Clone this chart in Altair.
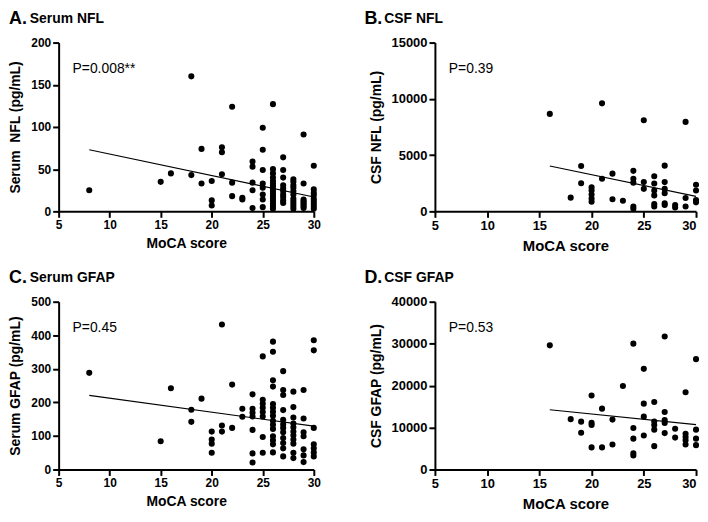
import altair as alt
import pandas as pd

FONT = "Liberation Sans"

# ---------------- data ----------------
moca_ticks = [5, 10, 15, 20, 25, 30]

# A. Serum NFL
A_x = [8, 15, 16, 18, 18, 19, 19, 20, 20, 20, 21, 21, 21, 22, 22, 22, 23, 23,
       24, 24, 24, 24, 24,
       25, 25, 25, 25, 25, 25, 25, 25,
       26, 26, 26, 26, 26, 26, 26, 26, 26, 26, 26, 26, 26, 26, 26, 26,
       27, 27, 27, 27, 27, 27, 27, 27, 27, 27,
       28, 28, 28, 28, 28, 28, 28, 28, 28, 28, 28,
       29, 29, 29, 29, 29, 29, 29, 29,
       30, 30, 30, 30, 30, 30, 30, 30, 30]
A_y = [25, 35, 45, 160, 43, 74, 33, 36, 13, 7, 76, 70, 44, 124, 34, 18, 16, 14,
       59, 53, 34, 25, 4,
       99, 73, 49, 33, 28, 20, 14, 5,
       127, 50, 45, 40, 36, 33, 30, 27, 24, 21, 18, 15, 12, 9, 6, 3,
       64, 49, 40, 31, 27, 24, 20, 17, 13, 10,
       38, 35, 31, 28, 24, 20, 15, 12, 9, 6, 3,
       91, 33, 14, 12, 10, 8, 6, 4,
       54, 26, 22, 19, 15, 12, 9, 6, 3]
A_fit_x = [8, 30]
A_fit_y = [73, 17]

# B. CSF NFL
B_x = [16, 18, 19, 19, 20, 20, 20, 20, 20, 21, 21, 22, 22, 23,
       24, 24, 24, 24, 24, 25, 25, 25,
       26, 26, 26, 26, 26, 26, 27, 27, 27, 27, 27, 27,
       28, 28, 29, 29, 29, 30, 30, 30, 30]
B_y = [8660, 1220, 4030, 2500, 2130, 1850, 1500, 1140, 850, 9600, 2900, 3350, 1080, 940,
       3600, 2900, 2550, 430, 230, 8100, 2600, 2000,
       3120, 2470, 1850, 1420, 650, 430, 4060, 2600, 2000, 1620, 710, 570,
       570, 340, 7950, 1190, 430, 2360, 1850, 1000, 800]
B_fit_x = [16, 30]
B_fit_y = [4030, 1330]

# C. Serum GFAP
C_x = [8, 15, 16, 18, 18, 19, 20, 20, 20, 20, 21, 21, 21, 22, 22, 23, 23,
       24, 24, 24, 24, 24, 24, 24,
       25, 25, 25, 25, 25, 25, 25, 25,
       26, 26, 26, 26, 26, 26, 26, 26, 26, 26, 26, 26, 26, 26, 26,
       27, 27, 27, 27, 27, 27, 27, 27, 27, 27, 27, 27,
       28, 28, 28, 28, 28, 28, 28, 28, 28, 28, 28,
       29, 29, 29, 29, 29, 29, 29,
       30, 30, 30, 30, 30, 30, 30]
C_y = [288, 84, 242, 178, 142, 211, 113, 89, 77, 50, 432, 131, 113, 253, 124, 181, 157,
       224, 181, 169, 158, 118, 48, 21,
       337, 208, 196, 184, 171, 158, 97, 50,
       381, 351, 266, 247, 195, 184, 172, 160, 145, 133, 121, 99, 87, 75, 51,
       293, 237, 222, 177, 148, 135, 124, 111, 94, 79, 63, 39,
       232, 186, 155, 137, 126, 113, 102, 89, 77, 50, 34,
       237, 152, 111, 99, 60, 42, 22,
       385, 355, 124, 75, 63, 51, 39]
C_fit_x = [8, 30]
C_fit_y = [221, 129]

# D. CSF GFAP
D_x = [16, 18, 19, 19, 20, 20, 20, 20, 21, 21, 22, 22, 23,
       24, 24, 24, 24, 24, 25, 25, 25, 25,
       26, 26, 26, 26, 26, 27, 27, 27, 27, 27,
       28, 28, 29, 29, 29, 29, 29, 30, 30, 30, 30]
D_y = [29600, 12000, 11400, 8750, 17650, 11100, 10600, 5260, 14500, 5260, 11900, 5960, 19900,
       30000, 9900, 7350, 3870, 3330, 24000, 15700, 12600, 8100,
       16100, 11450, 10600, 9500, 5570, 31700, 13700, 11800, 11100, 8670,
       9700, 7600, 18400, 8500, 7740, 6970, 5960, 26300, 9500, 7350, 5800]
D_fit_x = [16, 30]
D_fit_y = [14240, 10700]


def panel(xs, ys, fx, fy, letter, name, ytitle, ymax, ystep, ptext,
          w, h, lab_size, xt_size, letter_dx, name_dx, right_edge):
    df = pd.DataFrame({"moca": xs, "val": ys})
    fit = pd.DataFrame({"moca": fx, "val": fy})
    yvals = list(range(0, ymax + 1, ystep))
    xscale = alt.Scale(domain=[5, 30], nice=False, zero=False)
    yscale = alt.Scale(domain=[0, ymax], nice=False)
    if right_edge:
        xalign = {"condition": {"test": "datum.value === 30", "value": "right"},
                  "value": "center"}
    else:
        xalign = "center"
    xaxis = alt.Axis(values=moca_ticks, tickCount=len(moca_ticks), title="MoCA score",
                     labelFontSize=lab_size, titleFontSize=xt_size, labelFlush=False,
                     labelOverlap=False, labelAlign=xalign,
                     format="d", labelPadding=2, titlePadding=6)
    yaxis = alt.Axis(values=yvals, tickCount=len(yvals), title=ytitle,
                     labelFontSize=lab_size, titleFontSize=14, format="d",
                     labelOverlap=False, labelPadding=2, titlePadding=8)
    pts = alt.Chart(df).mark_circle(size=38, color="black", opacity=1).encode(
        x=alt.X("moca:Q", scale=xscale, axis=xaxis),
        y=alt.Y("val:Q", scale=yscale, axis=yaxis),
    )
    line = alt.Chart(fit).mark_line(color="black", strokeWidth=1.2).encode(
        x="moca:Q", y="val:Q"
    )
    lab = pd.DataFrame({"p": [ptext], "l": [letter], "n": [name]})
    ptxt = alt.Chart(lab).mark_text(
        align="left", baseline="alphabetic", fontSize=14, font=FONT, color="black"
    ).encode(text="p:N", x=alt.value(14), y=alt.value(31))
    ltxt = alt.Chart(lab).mark_text(
        align="left", baseline="alphabetic", fontSize=18, font=FONT,
        fontWeight="bold", color="black"
    ).encode(text="l:N", x=alt.value(letter_dx), y=alt.value(-19))
    ntxt = alt.Chart(lab).mark_text(
        align="left", baseline="alphabetic", fontSize=14, font=FONT,
        fontWeight="bold", color="black"
    ).encode(text="n:N", x=alt.value(name_dx), y=alt.value(-20))
    return alt.layer(pts, line, ptxt, ltxt, ntxt).properties(width=w, height=h)


pA = panel(A_x, A_y, A_fit_x, A_fit_y, "A.", "Serum NFL", "Serum\u00a0 NFL (pg/mL)",
           200, 50, "P=0.008**", 257, 170, 12, 14, -50, -29, False)
pB = panel(B_x, B_y, B_fit_x, B_fit_y, "B.", "CSF NFL", "CSF NFL (pg/mL)",
           15000, 5000, "P=0.39", 263, 170, 13, 15, -71, -51, True)
pC = panel(C_x, C_y, C_fit_x, C_fit_y, "C.", "Serum GFAP", "Serum GFAP (pg/mL)",
           500, 100, "P=0.45", 257, 169, 12, 14, -50, -29, False)
pD = panel(D_x, D_y, D_fit_x, D_fit_y, "D.", "CSF GFAP", "CSF GFAP (pg/mL)",
           40000, 10000, "P=0.53", 263, 169, 13, 15, -71, -51, True)

chart = alt.concat(
    pA, pB, pC, pD, columns=2,
    spacing={"row": 91, "column": 122}, bounds="flush"
).properties(
    padding={"left": 0, "top": 0, "right": 0, "bottom": 0}
).configure_view(stroke=None).configure_axis(
    domainColor="black", domainWidth=2, tickColor="black", tickWidth=2, tickSize=6,
    labelColor="black", titleColor="black", labelFont=FONT, titleFont=FONT,
    labelFontWeight="bold", titleFontWeight="bold", grid=False
)

chart.save("out.html", embed_options={"renderer": "svg", "actions": False})
